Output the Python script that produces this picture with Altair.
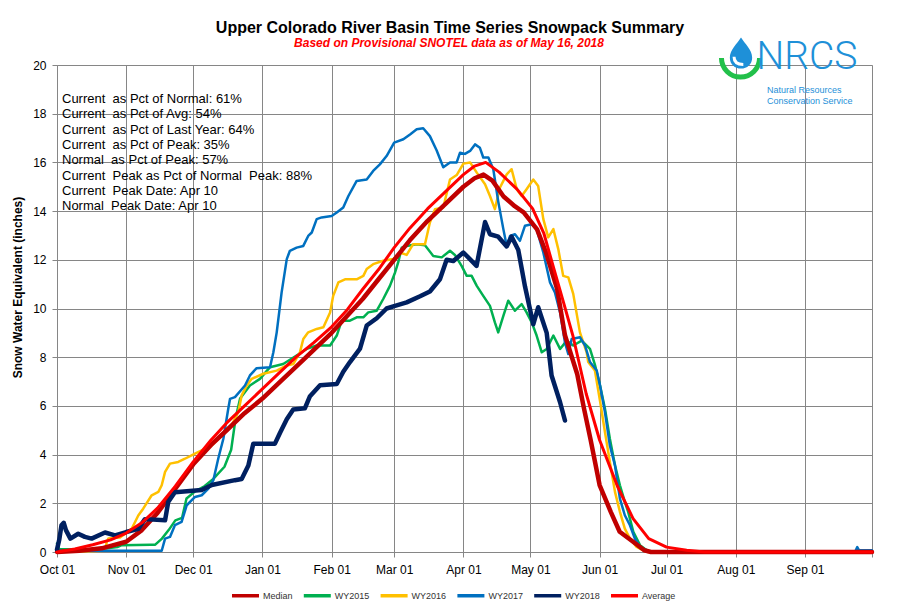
import altair as alt
import pandas as pd

# ---------------- data (day = days since Oct 01, swe = inches) ----------------
SERIES = ["Median", "WY2015", "WY2016", "WY2017", "WY2018", "Average"]
COLORS = ["#C00000", "#00B050", "#FFC000", "#0070C0", "#002060", "#FF0000"]
LINE_W = {"Median": 4.5, "WY2015": 2.5, "WY2016": 2.5, "WY2017": 2.5, "WY2018": 4.5, "Average": 3}
DRAW_ORDER = ["WY2015", "WY2016", "WY2017", "Median", "WY2018", "Average"]

MONTH_DAYS = [0, 31, 61, 92, 123, 151, 182, 212, 243, 273, 304, 335, 365]
MONTH_LABELS = ["Oct 01", "Nov 01", "Dec 01", "Jan 01", "Feb 01", "Mar 01", "Apr 01",
                "May 01", "Jun 01", "Jul 01", "Aug 01", "Sep 01", ""]
Y_TICKS = [0, 2, 4, 6, 8, 10, 12, 14, 16, 18, 20]

median_day = [0, 10, 20, 31, 38, 45, 53, 61, 69, 76, 84, 92, 100, 107, 115, 123, 130, 137, 144,
              151, 158, 166, 174, 182, 187, 191, 195, 200, 205, 209, 215, 219, 224, 227.5, 233,
              236, 239, 243, 248, 252, 258, 263, 266, 365]
median_swe = [0, 0.05, 0.15, 0.42, 0.9, 1.6, 2.6, 3.6, 4.4, 5.0, 5.7, 6.3, 7.0, 7.6, 8.3, 9.0, 9.7,
              10.4, 11.2, 12.0, 12.8, 13.6, 14.3, 15.0, 15.35, 15.5, 15.25, 14.6, 14.2, 13.95, 13.25,
              12.3, 10.8, 8.9, 7.3, 5.9, 4.6, 2.75, 1.65, 0.83, 0.42, 0.07, 0, 0]

average_day = [0, 8, 16, 24, 31, 38, 45, 53, 61, 69, 76, 84, 92, 100, 107, 115, 123, 130, 137, 144,
               151, 158, 166, 174, 182, 187, 192, 198, 206, 213, 218, 222, 227, 231, 237, 243, 251,
               258, 265, 273, 282, 290, 365]
average_swe = [0, 0.12, 0.3, 0.5, 0.78, 1.2, 1.8, 2.7, 3.7, 4.6, 5.3, 6.0, 6.7, 7.4, 8.0, 8.6, 9.25,
               9.95, 10.8, 11.6, 12.5, 13.3, 14.1, 14.8, 15.5, 15.85, 16.0, 15.6, 14.9, 14.1, 13.1,
               11.8, 10.2, 8.9, 6.5, 4.6, 2.7, 1.37, 0.55, 0.2, 0.07, 0, 0]

wy2018_day = [0, 1, 2, 3, 4, 6, 9.5, 12.5, 15.5, 21.5, 26, 31, 36.4, 39.4, 48.4, 49.8, 52.8, 64.8,
              69.3, 79.7, 82.7, 85.7, 87.9, 97.6, 99.9, 102.9, 105.8, 111, 113.3, 117.8, 125.3,
              128.2, 131.2, 135.7, 138.7, 143.2, 147.6, 151, 156.6, 162.6, 167, 171.5, 174.5, 177.5,
              182, 187.9, 191.7, 193.9, 197.6, 201.4, 203.6, 206.6, 209.6, 213.3, 215.5, 219.3,
              221.5, 225.3, 227.5]
wy2018_swe = [0.1, 0.5, 1.1, 1.2, 0.9, 0.55, 0.75, 0.62, 0.55, 0.8, 0.68, 0.82, 0.95, 1.35, 1.3,
              2.05, 2.45, 2.55, 2.75, 2.95, 3.0, 3.55, 4.45, 4.45, 4.9, 5.45, 5.85, 5.9, 6.4, 6.85,
              6.9, 7.4, 7.8, 8.35, 9.3, 9.6, 10.0, 10.1, 10.25, 10.5, 10.7, 11.2, 12.0, 11.95, 12.3,
              11.75, 13.55, 13.05, 12.95, 12.55, 12.95, 12.4, 10.9, 9.35, 10.05, 9.0, 7.25, 6.15, 5.4]

wy2017_day = [0, 46.9, 48.4, 50.6, 52.8, 55.8, 58.1, 61.8, 64.8, 67.8, 70, 72.2, 74.5, 76.7, 77.5,
              79.7, 84.2, 86.4, 89.4, 95.4, 96.9, 98.4, 100.6, 102.9, 104.3, 107.3, 110.3, 112.5,
              114.1, 116.3, 118.5, 123, 125.3, 128.2, 130.5, 134.2, 138.7, 141.6, 144.6, 147.6, 151,
              155.1, 158.1, 161.1, 164, 167, 170, 173, 176, 179, 180.5, 182.7, 185, 187.2, 189.4,
              190.9, 193.2, 195.4, 197.6, 199.9, 201.4, 202.9, 205.1, 207.3, 209.6, 212.6, 214.8,
              217.8, 220.8, 223, 225.3, 227.5, 229, 230.5, 234.2, 236.5, 238.7, 241.7, 243.2, 245.4,
              247.6, 249.9, 252.1, 254.3, 256.6, 258.8, 261.1, 264.1, 265.5, 357.4, 358.4, 359.2, 365]
wy2017_swe = [0.05, 0.05, 0.55, 0.62, 1.1, 1.24, 1.92, 2.26, 2.33, 2.6, 2.94, 3.83, 4.65, 5.88, 6.29,
              6.36, 6.84, 7.25, 7.55, 7.59, 8.2, 9.02, 10.66, 12.03, 12.37, 12.5, 12.57, 12.98, 13.12,
              13.67, 13.74, 13.8, 13.94, 14.15, 14.62, 15.24, 15.3, 15.65, 15.92, 16.26, 16.81, 16.95,
              17.15, 17.36, 17.4, 17.08, 16.5, 15.8, 16.0, 16.0, 16.4, 16.35, 16.47, 16.74, 16.6,
              16.2, 16.2, 15.72, 14.4, 13.26, 12.57, 12.98, 13.05, 12.78, 13.4, 13.46, 13.26, 12.3,
              11.07, 10.66, 9.84, 8.6, 8.13, 8.75, 8.82, 8.48, 7.8, 7.45, 6.84, 5.75, 4.38, 3.56, 2.19,
              1.51, 1.1, 0.55, 0.21, 0.07, 0, 0, 0.2, 0.07, 0.07]

wy2016_day = [0, 21.5, 22.3, 23, 28.2, 33.5, 36.4, 38.6, 42.4, 45.4, 46.9, 48.4, 50.6, 54.3, 57.3,
              61.8, 64.8, 69.3, 73.8, 78.2, 81.2, 82.7, 85, 87.2, 92.4, 98.4, 102.9, 105.8, 108.8,
              110.3, 112.5, 116.3, 119.3, 122.3, 123.7, 126, 129, 134.2, 137.2, 138.7, 141.6, 146.1,
              150.6, 153.6, 156.6, 159.5, 164.8, 167, 169.3, 173, 176, 179, 182, 185, 188, 191.7,
              193.9, 196.1, 198.4, 201.4, 203.6, 205.9, 208.1, 210.3, 213.3, 215.5, 217.8, 220,
              222.3, 224.5, 226.7, 229, 231.2, 234.2, 237.2, 237.9, 240.9, 243.2, 245.4, 247.6, 249.9,
              252.1, 254.3, 256.6, 259.6, 262.6, 264.7, 365]
wy2016_swe = [0, 0.05, 0.42, 0.55, 0.6, 0.96, 1.5, 1.78, 2.33, 2.47, 2.74, 3.29, 3.63, 3.7, 3.83,
              4.04, 4.17, 4.38, 4.79, 5.2, 5.75, 6.43, 6.84, 7.11, 7.32, 7.45, 7.66, 7.72, 8.2, 8.75,
              9.02, 9.16, 9.23, 9.84, 10.52, 11.07, 11.2, 11.2, 11.34, 11.62, 11.82, 11.96, 12.03,
              12.3, 12.2, 12.64, 12.64, 13.53, 14.08, 14.15, 15.3, 15.48, 15.95, 16.0, 15.58, 15.1,
              14.62, 14.08, 14.97, 15.51, 15.72, 14.9, 14.62, 14.9, 15.3, 15.03, 13.67, 12.92, 13.26,
              12.44, 11.34, 11.28, 10.6, 9.02, 8.2, 7.8, 7.45, 6.2, 4.93, 3.7, 2.47, 1.65, 0.96, 0.55,
              0.21, 0.07, 0, 0]

wy2015_day = [0, 1, 10, 20, 27, 29, 42, 44, 47, 50, 53, 56, 58, 62, 66, 70, 75, 78, 80, 82, 86.4,
              90.9, 95.4, 101.3, 107.3, 111.8, 116.3, 122.3, 125.3, 127.5, 131.2, 134.2, 137.2,
              139.4, 143.2, 146.1, 149.1, 151.4, 152.8, 154.4, 156.6, 161.1, 164.8, 168.5, 172.3,
              176, 178.2, 181.2, 183.5, 185.7, 188, 190.9, 193.9, 196.1, 197.6, 199.9, 202.1, 205.1,
              208.1, 210.3, 212.6, 214.8, 217.1, 219.3, 222.3, 225.3, 228.3, 231.2, 235, 238.7, 241,
              243.2, 245.4, 247.6, 249.9, 252.1, 254.3, 255.8, 258.1, 261.1, 264.1, 265.5, 365]
wy2015_swe = [0.35, 0.12, 0.1, 0.12, 0.2, 0.28, 0.3, 0.3, 0.55, 0.9, 1.3, 1.4, 2.2, 2.5, 2.7, 3.0,
              3.5, 4.2, 5.5, 6.3, 6.84, 7.11, 7.59, 7.72, 8.07, 8.34, 8.48, 8.48, 8.89, 9.5, 9.5,
              9.64, 9.64, 9.84, 9.91, 10.39, 10.93, 11.48, 11.89, 12.5, 12.57, 12.64, 12.6, 12.16,
              12.1, 12.37, 12.2, 11.75, 11.34, 11.34, 10.93, 10.52, 10.11, 9.43, 9.02, 9.7, 10.32,
              9.91, 10.18, 9.84, 9.43, 8.89, 8.2, 8.34, 8.89, 8.34, 8.68, 8.48, 8.68, 8.34, 7.66,
              6.84, 5.88, 4.65, 3.56, 2.74, 2.06, 1.65, 0.83, 0.28, 0.07, 0, 0]

NB = "\u00a0"
STATS = ["Current" + NB + " as Pct of Normal: 61%",
         "Current" + NB + " as Pct of Avg: 54%",
         "Current" + NB + " as Pct of Last Year: 64%",
         "Current" + NB + " as Pct of Peak: 35%",
         "Normal" + NB + " as Pct of Peak: 57%",
         "Current" + NB + " Peak as Pct of Normal" + NB + " Peak: 88%",
         "Current" + NB + " Peak Date: Apr 10",
         "Normal" + NB + " Peak Date: Apr 10"]

TITLE = "Upper Colorado River Basin Time Series Snowpack Summary"
SUBTITLE = "Based on Provisional SNOTEL data as of May 16, 2018"
LOGO = "NRCS"
LOGO_SUB = ["Natural Resources", "Conservation Service"]

# ---------------- build table ----------------
raw = {
    "Median": (median_day, median_swe),
    "WY2015": (wy2015_day, wy2015_swe),
    "WY2016": (wy2016_day, wy2016_swe),
    "WY2017": (wy2017_day, wy2017_swe),
    "WY2018": (wy2018_day, wy2018_swe),
    "Average": (average_day, average_swe),
}
frames = []
for name, (d, v) in raw.items():
    frames.append(pd.DataFrame({"day": d, "swe": v, "series": name}))
df = pd.concat(frames, ignore_index=True)

FONT = "Liberation Sans"
GRID = "#868686"

label_expr = "[" + ",".join("'%s'" % s for s in MONTH_LABELS) + "][indexof([" + \
    ",".join(str(d) for d in MONTH_DAYS) + "], datum.value)]"

x_enc = alt.X("day:Q",
              scale=alt.Scale(domain=[0, 365], nice=False, zero=False),
              axis=alt.Axis(values=MONTH_DAYS, labelExpr=label_expr, title=None,
                            grid=True, gridColor=GRID, gridWidth=1,
                            domainColor=GRID, tickColor=GRID, tickSize=5,
                            labelFontSize=12, labelFont=FONT, labelColor="#000000",
                            labelPadding=7, labelFlush=False, labelOverlap=False))
y_enc = alt.Y("swe:Q",
              scale=alt.Scale(domain=[0, 20], nice=False),
              axis=alt.Axis(values=Y_TICKS, title="Snow Water Equivalent (inches)",
                            titleFontSize=12, titleFont=FONT, titleFontWeight="bold",
                            titleColor="#000000", titleX=-33, titleY=222,
                            grid=True, gridColor=GRID, gridWidth=1,
                            domainColor=GRID, tickColor=GRID, tickSize=5,
                            labelFontSize=12, labelFont=FONT, labelColor="#000000",
                            labelPadding=6))
color_enc = alt.Color("series:N",
                      scale=alt.Scale(domain=SERIES, range=COLORS),
                      legend=alt.Legend(orient="none", legendX=173, legendY=515,
                                        direction="horizontal", title=None,
                                        symbolType="stroke", symbolSize=730,
                                        symbolStrokeWidth=3.5, labelFontSize=9,
                                        labelFont=FONT, labelColor="#333333",
                                        labelOffset=2, columnPadding=2.8,
                                        columns=6, padding=0))

base = alt.Chart(df)
layers = []
for s in DRAW_ORDER:
    layers.append(
        base.transform_filter(alt.datum.series == s)
        .mark_line(strokeWidth=LINE_W[s], strokeJoin="round", strokeCap="round")
        .encode(x=x_enc, y=y_enc, color=color_enc)
    )

one = pd.DataFrame({"k": [0]})

title_mark = alt.Chart(one).mark_text(
    text=TITLE, align="center", baseline="alphabetic", fontSize=16, font=FONT,
    fontWeight="bold", color="#000000"
).encode(x=alt.value(393), y=alt.value(-32.5))
subtitle_mark = alt.Chart(one).mark_text(
    text=SUBTITLE, align="center", baseline="alphabetic", fontSize=12, font=FONT,
    fontWeight="bold", fontStyle="italic", color="#FF0000"
).encode(x=alt.value(392), y=alt.value(-18.5))

stats_text = alt.Chart(one).mark_text(
    text=STATS, align="left", baseline="top", fontSize=13, font=FONT,
    lineHeight=15.3, color="#000000"
).encode(x=alt.value(5), y=alt.value(28))

# NRCS logo
drop_path = ("M0,-1 C0.25,-0.6 0.72,-0.2 0.72,0.3 C0.72,0.72 0.4,1 0,1 "
             "C-0.4,1 -0.72,0.72 -0.72,0.3 C-0.72,-0.2 -0.25,-0.6 0,-1 Z")
hl_path = "M-0.45,0.25 C-0.45,0.6 -0.2,0.75 0.15,0.75"
arc_path = "M-1,0 A1,1 0 0 0 1,0"
logo_drop = alt.Chart(one).mark_point(
    shape=drop_path, filled=True, color="#1E90D8", size=960, opacity=1
).encode(x=alt.value(684), y=alt.value(-12))
logo_hl = alt.Chart(one).mark_point(
    shape=hl_path, filled=False, color="#FFFFFF", strokeWidth=3, size=960, opacity=1
).encode(x=alt.value(684), y=alt.value(-12))
logo_arc = alt.Chart(one).mark_point(
    shape=arc_path, filled=False, color="#22C04A", strokeWidth=5, size=1450, opacity=1
).encode(x=alt.value(683.5), y=alt.value(-7))
logo_nrcs = alt.Chart(one).mark_text(
    text=LOGO, align="center", baseline="alphabetic", fontSize=39,
    font="Roboto", fontWeight=300, color="#1E90D8"
).encode(x=alt.value(750), y=alt.value(4))
logo_sub = alt.Chart(one).mark_text(
    text=LOGO_SUB, align="left", baseline="alphabetic",
    fontSize=9, font=FONT, lineHeight=10.5, color="#1E90D8"
).encode(x=alt.value(710), y=alt.value(28))

chart = alt.layer(*layers, title_mark, subtitle_mark, stats_text,
                  logo_drop, logo_hl, logo_arc, logo_nrcs, logo_sub).properties(
    width=815, height=487,
    autosize=alt.AutoSizeParams(type="none"),
    padding={"left": 49, "top": 57, "right": 21, "bottom": 49},
).configure_view(stroke=None).configure(background="white")

chart.save("out.html", embed_options={"renderer": "svg", "actions": False})
